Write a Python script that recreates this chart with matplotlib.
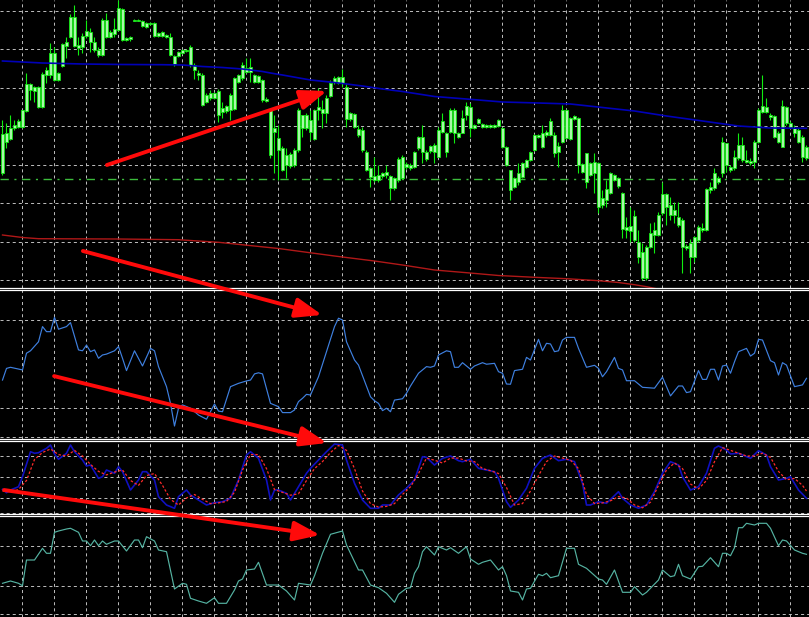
import numpy as np
import matplotlib
matplotlib.use("Agg")
import matplotlib.pyplot as plt
from matplotlib.patches import ConnectionPatch

plt.rcParams['lines.scale_dashes'] = False

# candles (price in points)
open_ = [117,148,151,162,163,163,179,200,203,203, 183,215,215,237,217,224,244,253,273,245,
         243,254,258,248,240,235,253,258,256,260, 281,252,251,269,270,269,267,266,267,257,
         254,255,253,234,234,237,239,243,225,217, 215,195,192,197,199,182,179,180,181,208,
         212,218,223,215,208,210,191,180,158,152, 142,135,124,125,140,162,175,170,151,180,
         181,177,194,208,213,207,203,177,176,161, 160,138,122,114,110,114,118,114,102,110,
         112,126,125,123,142,153,138,139,145,133, 158,157,158,180,157,157,175,183,165,167,
         166,163,165,163,164,162,143,120,103,108, 113,123,130,140,153,157,155,155,155,144,
         148,152,172,171,172,126,108,127,117,127, 92,90,97,110,112,97,63,59,74,48,
         38,12,43,55,55,77,83,85,80,73, 70,44,47,33,50,60,60,100,102,112,
         117,125,123,122,132,145,130,129,128,148, 178,183,175,174,157,143,167,167,162,160,
         153,143]
high = [170,167,175,170,171,180,217,207,204,204, 218,223,247,243,218,247,253,276,285,253,
        257,270,262,253,243,272,277,260,272,290, 282,253,254,271,271,270,268,268,268,258,
        259,256,257,235,239,241,241,245,227,220, 217,197,200,198,201,188,185,197,213,216,
        228,232,232,216,215,211,193,180,175,165, 144,142,138,142,182,175,177,180,181,202,
        190,195,210,214,214,221,207,178,177,165, 163,140,123,133,125,118,125,115,113,133,
        135,128,127,139,154,165,140,145,147,163, 177,158,182,182,158,180,188,187,166,172,
        167,166,166,166,171,163,144,120,113,127, 128,131,139,156,156,165,160,172,158,148,
        185,181,173,175,173,127,137,128,137,128, 100,110,118,116,113,98,73,83,80,60,
        47,45,67,68,78,108,97,93,88,88, 72,46,51,54,65,67,102,108,122,114,
        153,147,125,140,157,153,140,132,150,182, 215,192,177,175,159,190,184,169,165,162,
        155,145]
low = [115,142,150,160,162,162,178,190,188,182, 182,207,212,209,209,223,232,252,243,235,
       237,252,238,238,233,234,252,252,253,259, 249,249,249,269,269,263,262,265,253,253,
       253,252,234,224,233,236,238,223,211,210, 184,187,190,191,168,172,177,170,180,207,
       210,217,208,207,207,188,188,132,117,110, 119,112,122,123,138,153,160,150,150,170,
       162,167,193,206,206,203,163,169,162,153, 138,119,103,108,108,112,112,90,100,108,
       111,121,120,122,140,127,129,137,127,133, 157,133,157,147,152,157,170,153,161,166,
       162,162,162,162,163,142,124,90,102,105, 112,122,129,139,152,142,153,154,133,123,
       147,151,150,170,117,117,102,114,97,77, 82,83,96,109,102,52,52,48,48,27,
       10,10,42,37,54,75,65,70,67,63, 17,40,17,28,48,58,59,97,100,106,
       113,118,118,120,130,128,127,125,122,147, 177,177,170,152,147,143,165,162,153,147,
       128,130]
close = [156,157,162,165,169,180,206,206,199,183, 216,220,237,210,210,246,248,273,244,242,
         254,259,248,240,235,270,270,253,261,282, 250,250,253,270,269,264,263,267,254,254,
         258,253,235,226,238,240,240,225,220,215, 185,188,197,192,175,178,184,195,212,215,
         225,222,218,208,214,190,189,135,162,140, 120,125,136,140,180,175,162,158,180,183,
         177,192,207,212,207,213,171,171,163,155, 140,120,113,110,115,117,115,102,112,131,
         133,123,122,138,153,138,131,144,138,160, 169,138,180,157,153,172,184,162,162,171,
         163,165,163,165,170,143,125,100,112,117, 127,130,138,155,155,143,158,169,137,138,
         180,180,151,174,125,118,137,115,128,83, 85,101,117,115,104,61,60,64,50,33,
         12,43,57,60,75,96,96,75,75,65, 43,42,33,53,63,62,101,103,117,108,
         148,147,120,133,145,130,128,127,148,180, 184,178,173,153,148,184,183,163,157,148,
         133,132]

# moving averages on the price panel
ma_slow_bar = [0,5,10,20,30,40,45,50,55,60,65,67,70,77,83,90,95,100,108,116,125,134,142,150,158,166,175,184,192,201]
ma_slow = [229,228,227,226,225.5,225.3,225,223.5,222.5,221,218.5,217,215,210,207.5,204,201,198.5,193.5,191,
           188,187,186,182.5,179,174,169,164,162,161.7]
ma_long_bar = [0,5,9,29,44,54,69,83,93,100,108,116,124,133,141,149,154,158,161,165]
ma_long = [55,52.5,51.3,51,50.3,47.7,41.5,34,29,25,20,17.3,14.5,12.7,11.3,9.3,7.5,5.3,3.3,0]
level_line = 110.7

# oscillator 1
osc1_bar = [0,1,2,5,6,7,9,10,11,12,13,14,16,17,19,20,21,22,23,24,25,26,28,29,30,31,33,35,37,38,39,41,42,43,44,45,
            47,49,51,53,54,55,57,59,61,62,63,64,65,67,69,70,72,73,74,75,76,77,79,81,83,84,85,86,88,89,92,93,94,95,
            96,97,98,100,101,102,104,106,107,108,109,111,112,113,114,115,117,118,120,121,123,124,125,126,127,128,
            130,131,132,134,135,136,137,138,139,140,141,143,144,146,148,149,150,151,153,154,155,156,158,159,160,
            163,165,167,169,170,171,172,174,175,176,177,178,179,180,181,182,183,184,186,187,188,189,190,192,193,
            194,195,196,198,200,201]
osc1 = [42.7,48.0,48.5,47.3,54.9,56.0,60.1,67.0,64.7,64.7,71.2,65.8,67.0,68.8,56.4,56.0,58.6,55.6,56.4,52.6,
        54.1,54.5,56.0,57.9,52.6,47.0,56.0,49.1,57.1,56.0,48.8,39.7,32.1,21.8,29.9,31.4,29.9,26.8,24.9,31.8,
        28.6,28.3,39.7,41.2,42.3,42.7,45.5,46.0,45.5,32.1,30.6,27.9,27.9,29.1,32.9,34.4,36.2,35.9,44.2,55.6,
        67.0,70.8,70.0,60.1,51.8,49.5,35.1,33.3,32.1,28.8,29.9,28.3,33.6,34.2,36.7,40.0,45.8,48.8,48.5,49.1,
        54.1,56.0,55.6,48.5,48.5,50.6,47.6,49.1,50.6,49.9,50.3,46.5,45.8,40.9,40.8,47.0,47.6,53.0,51.8,61.2,
        56.0,59.4,59.1,55.6,56.0,60.9,62.1,62.1,57.1,48.5,49.4,48.0,44.2,46.5,53.0,48.0,47.3,42.4,42.4,40.9,
        39.4,39.0,44.0,35.5,40.0,40.0,37.0,37.4,47.0,43.0,43.0,47.6,47.6,42.7,49.1,49.5,45.8,51.0,55.6,57.1,
        53.6,54.9,61.2,60.9,51.5,50.6,45.0,50.6,49.5,39.7,40.5,43.5]

# oscillator 2: main and signal
osc2_bar = [0,1,2,4,5,7,8,9,11,12,13,14,16,17,18,20,21,22,24,25,26,28,29,30,32,34,35,36,38,39,41,43,44,46,47,49,
            51,53,55,57,59,61,62,64,66,67,68,69,71,72,74,76,77,79,81,83,85,86,88,90,92,94,95,97,99,101,103,105,
            106,108,110,112,114,115,117,119,121,123,124,126,127,129,131,133,135,137,139,141,143,145,146,147,149,
            151,154,155,157,159,161,163,165,167,169,170,172,174,176,178,179,181,182,184,187,189,191,192,194,196,
            197,199,201]
osc2_main = [32.4,27.6,31.4,36.1,50.4,86.1,83.9,84.7,91.0,95.7,82.9,75.3,83.9,95.7,86.1,74.3,65.7,67.1,48.1,50.4,
             60.0,55.3,64.7,57.6,31.4,45.7,57.6,57.6,45.7,21.9,10.0,5.3,21.9,31.4,24.3,17.1,10.0,13.3,14.7,19.6,
             45.7,81.4,86.1,76.7,45.7,17.1,31.4,31.4,26.7,17.1,36.1,55.3,62.4,74.3,86.1,97.1,95.7,74.3,41.0,17.1,
             5.3,5.3,10.0,10.0,24.3,33.9,45.7,79.0,78.1,67.1,76.7,80.0,73.3,71.9,75.3,62.4,60.0,57.6,48.1,14.7,
             6.7,17.1,33.9,62.4,76.7,81.4,73.3,75.3,71.9,41.0,10.0,10.0,14.7,12.4,29.0,19.6,10.0,5.3,10.0,29.0,
             55.3,71.9,67.1,50.4,31.4,36.1,55.3,91.0,94.3,88.6,82.9,83.9,76.7,87.6,81.4,64.7,45.7,48.1,50.4,31.4,
             19.6]
osc2_sig_bar = list(range(0, 201, 2)) + [201]
osc2_sig = [30,29,32,45,75,85,90,82,80,88,80,68,58,53,57,60,45,38,52,55,38,18,10,20,25,18,12,13,15,28,
            60,82,82,62,32,28,24,26,45,62,72,85,95,88,62,30,12,7,8,12,25,36,55,77,74,70,77,77,73,72,
            62,59,55,35,10,12,30,52,72,80,77,74,62,25,12,13,16,22,20,10,6,14,38,60,70,62,40,33,45,72,
            92,88,84,80,80,84,78,58,46,48,38,30]

# oscillator 3
osc3_bar = [0,2,4,5,6,8,10,11,12,13,14,16,17,19,20,21,22,23,24,25,26,28,29,31,33,34,35,36,38,39,41,43,45,46,47,49,
            51,53,54,56,58,59,60,61,63,64,66,69,71,73,74,77,78,80,82,85,86,87,89,90,92,94,96,98,99,101,102,103,
            104,105,106,108,109,111,112,114,116,117,119,120,122,124,125,126,127,129,130,131,132,134,135,136,137,
            139,141,143,144,146,149,150,151,153,155,157,158,160,161,164,165,167,168,169,170,172,174,175,177,179,
            180,181,182,183,184,185,186,188,189,191,192,194,195,196,198,200,201]
osc3 = [32.7,35,32.7,30.3,56,56,67.7,62.7,62.7,83.7,85,87,87.7,83.7,75,75,70.3,76,70.3,75,71.7,75,75,65,76,76,
        68.3,79.3,75,66,64.3,27,32.7,31.7,17.7,15,12.7,18.3,12.7,12.7,26,35,37,46,47,53.7,31,31,25,16,32.7,31,
        40.3,62.7,81.7,85,71,62.7,46,46,31,28.3,22.7,13.7,21.7,27.7,28.3,42.7,49.3,64.3,69.3,61,69.3,66,68.3,
        62.7,69.3,57,51.7,53.7,56,46,49.3,40.3,25,23.7,16,27,27.7,41.7,40.3,42.7,38.3,40.3,67.7,67.7,51.7,47.7,
        37,36,31.7,46,23.7,23.7,29.3,21,23.7,36,46,39.3,40.3,51.7,40.3,37,49.3,49.7,58.3,49.3,62.7,62.7,60.3,
        68.3,88.3,88.3,92.7,91,92.7,92.7,87.7,70.3,76,75,66,62.7,61.7]

# annotation arrows: (panel, bar, value)
arrow_from = [(0, 26.1, 125), (0, 20.1, 39), (1, 12.9, 44.5), (2, 0.4, 31.4)]
arrow_to = [(0, 81.1, 199), (1, 79.9, 72.3), (2, 81.1, 98.6), (3, 79.4, 81)]

W, H = 809, 617
fig = plt.figure(figsize=(W / 100, H / 100), dpi=100, facecolor='black')

grid_bars = np.arange(5, 200, 8)
grid_ls = (0, (2.2, 2.2))


def panel(top, bottom, ylim, levels, spines):
    ax = fig.add_axes([0, 1 - bottom / H, 1, (bottom - top) / H])
    ax.set_facecolor('black')
    ax.set_xlim(-0.625, 201.625)
    ax.set_ylim(*ylim)
    ax.set_xticks(grid_bars)
    ax.set_yticks(levels)
    ax.set_axisbelow(True)
    ax.grid(True, color='#b8b8b8', ls=grid_ls, lw=0.72)
    ax.tick_params(length=0, labelbottom=False, labelleft=False)
    for side, sp in ax.spines.items():
        sp.set_visible(side in spines)
        sp.set_color('white')
        sp.set_linewidth(0.9)
    return ax


ax1 = panel(0, 287.5, (2.5, 290), [10, 48.4, 86.9, 125.3, 163.7, 202.1, 240.6, 279], ['bottom'])
ax2 = panel(289.7, 439.3, (15.77, 83.77), [16.7, 30, 70], ['top', 'bottom'])
ax3 = panel(441.3, 514, (-2.86, 101), [-1, 20, 50, 80], ['top', 'bottom'])
ax4 = panel(515.6, 617, (-1, 100.4), [2, 30, 70], ['top'])

bars = np.arange(len(close))
o = np.array(open_)
c = np.array(close)
ax1.axhline(level_line, color='#3cbc3c', lw=1.0, ls=(0, (6, 4, 1.5, 4)), zorder=1)
ax1.plot(ma_long_bar, ma_long, color='#b01818', lw=1.0, zorder=2)
ax1.vlines(bars, low, high, colors='#10ee10', lw=0.8, zorder=3)
ax1.bar(bars, np.maximum(np.abs(c - o), 0.6), bottom=np.minimum(o, c), width=0.6,
        color='#a8f8a8', edgecolor='#10e810', lw=0.6, zorder=4)
ax1.plot(ma_slow_bar, ma_slow, color='#0000b8', lw=1.2, zorder=5)

ax2.plot(osc1_bar, osc1, color='#3f80e0', lw=0.85)

ax3.plot(osc2_bar, osc2_main, color='#1010c0', lw=1.2)
ax3.plot(osc2_sig_bar, osc2_sig, color='#ff2a2a', lw=0.9, ls=(0, (1.8, 1.4)))

ax4.plot(osc3_bar, osc3, color='#55b3a2', lw=0.85)

axes = [ax1, ax2, ax3, ax4]
for (pa, xa, ya), (pb, xb, yb) in zip(arrow_from, arrow_to):
    con = ConnectionPatch(xyA=(xa, ya), coordsA=axes[pa].transData,
                          xyB=(xb, yb), coordsB=axes[pb].transData,
                          arrowstyle='-|>,head_length=0.8,head_width=0.3', mutation_scale=20,
                          color='#ff0a0a', lw=2.8, zorder=10)
    fig.add_artist(con)

fig.savefig('out.png', dpi=100, facecolor='black')
